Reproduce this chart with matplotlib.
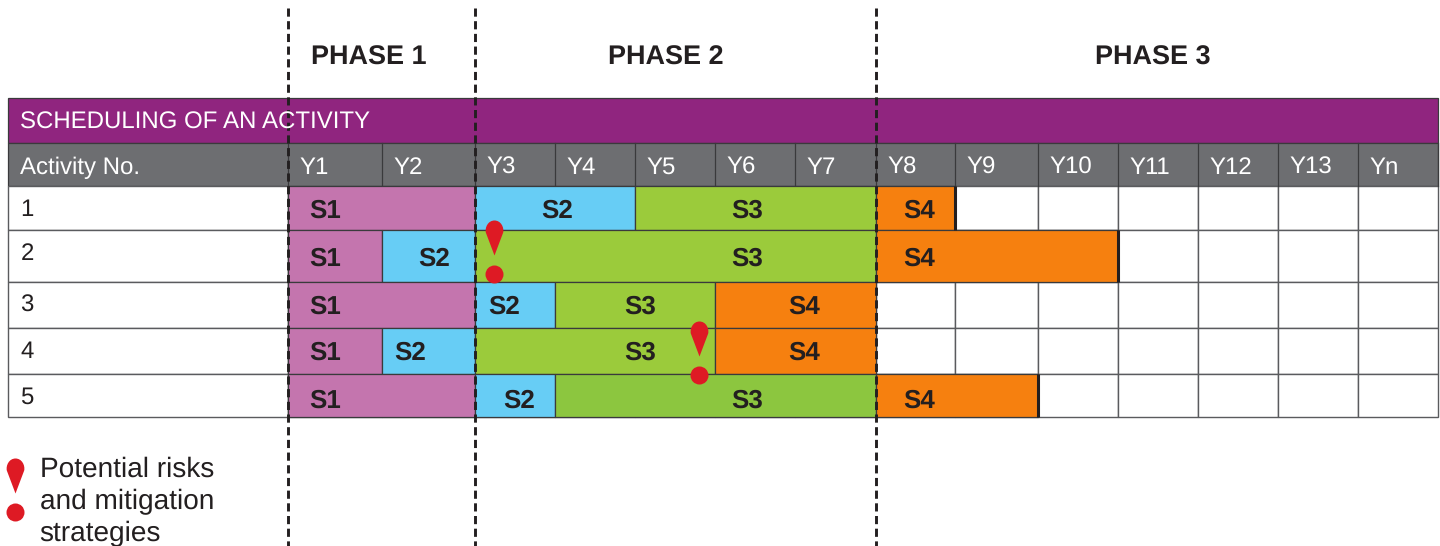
import matplotlib
matplotlib.use("Agg")
import matplotlib.pyplot as plt
from matplotlib.patches import Rectangle, PathPatch, Circle
from matplotlib.path import Path

plt.rcParams['font.family'] = ['Liberation Sans', 'DejaVu Sans']
plt.rcParams['text.hinting'] = 'no_hinting'
plt.rcParams['text.hinting_factor'] = 1

# ---- content ----
title = "SCHEDULING OF AN ACTIVITY"
first_col = "Activity No."
years = ["Y1", "Y2", "Y3", "Y4", "Y5", "Y6", "Y7", "Y8", "Y9", "Y10", "Y11", "Y12", "Y13", "Yn"]
activities = ["1", "2", "3", "4", "5"]
phases = ["PHASE 1", "PHASE 2", "PHASE 3"]
phase_bounds = [0, 2, 7, 14]          # in year columns
stages = ["S1", "S2", "S3", "S4"]
# end column of each stage per activity (stage k runs from previous end to this end)
stage_ends_a1 = [2, 4, 7, 8]
stage_ends_a2 = [1, 2, 7, 10]
stage_ends_a3 = [2, 3, 5, 7]
stage_ends_a4 = [1, 2, 5, 7]
stage_ends_a5 = [2, 3, 7, 9]
schedule = [stage_ends_a1, stage_ends_a2, stage_ends_a3, stage_ends_a4, stage_ends_a5]
legend_lines = ["Potential risks", "and mitigation", "strategies"]

# ---- layout (pixels) ----
col_x = [288, 382, 475, 555, 635, 715, 795, 876, 955, 1038, 1118, 1198, 1278, 1358, 1438]
row_y = [186, 230, 282, 328, 374, 417]
left = 8
stage_label_x = [[326, 558, 748, 920], [326, 435, 748, 920], [326, 505, 641, 805],
                 [326, 411, 641, 805], [326, 520, 748, 920]]
stage_label_y = [208.5, 256.5, 304.5, 350.5, 398.5]
activity_label_y = [208, 252, 304, 350, 396]
phase_label_x = [369, 666, 1153]
stage_colors = ["#c475ae", "#67cdf5", "#9bcb3b", "#f6800f"]
row5_s3 = "#8cc63f"
PURPLE, GREY, RED, INK, EDGE = "#90257f", "#6d6e71", "#de1a24", "#231f20", "#5a5b5e"
BORDER = "#3a3a3c"

fig = plt.figure(figsize=(14.4, 5.46), dpi=100)
ax = fig.add_axes([0, 0, 1, 1])
ax.set_xlim(0.5, 1440.5)
ax.set_ylim(546.5, 0.5)
ax.axis("off")


def risk(x, top):
    """Teardrop and dot warning marker."""
    r = 9
    cy = top + 9
    tip = top + 35
    verts = [(x, tip), (x - r + 0.3, cy + 3),
             (x - r - 0.7, cy - 2), (x - r + 2.5, top), (x, top),
             (x + r - 2.5, top), (x + r + 0.7, cy - 2), (x + r - 0.3, cy + 3),
             (x, tip), (x, tip)]
    codes = [Path.MOVETO, Path.LINETO,
             Path.CURVE4, Path.CURVE4, Path.CURVE4,
             Path.CURVE4, Path.CURVE4, Path.CURVE4,
             Path.LINETO, Path.CLOSEPOLY]
    ax.add_patch(PathPatch(Path(verts, codes), fc=RED, ec="none", zorder=6))
    ax.add_patch(Circle((x, top + 54), 9, fc=RED, ec="none", zorder=6))


# header bands
ax.add_patch(Rectangle((left, 98), 1430, 45, fc=PURPLE, ec=BORDER, lw=0.9, zorder=1))
ax.add_patch(Rectangle((left, 143), 1430, 43, fc=GREY, ec=BORDER, lw=0.9, zorder=1))
ax.text(21, 120.5, title, color="white", fontsize=17.2, va="center_baseline", ha="left", zorder=8)
ax.text(21, 165.5, first_col, color="white", fontsize=17.2, va="center_baseline", ha="left", zorder=8)
ax.plot([288, 288], [143, 186], color=BORDER, lw=0.9, zorder=2)
for i, lab in enumerate(years):
    ax.plot([col_x[i + 1]] * 2, [143, 186], color=BORDER, lw=0.9, zorder=2)
    ax.text(col_x[i] + 12, 165.5, lab, color="white", fontsize=17.2, va="center_baseline", ha="left", zorder=4)

# body rows
for r, ends in enumerate(schedule):
    y0, y1 = row_y[r], row_y[r + 1]
    ax.add_patch(Rectangle((left, y0), col_x[0] - left, y1 - y0, fc="white", ec=EDGE, lw=1.0, zorder=1))
    for c in range(len(years)):
        ax.add_patch(Rectangle((col_x[c], y0), col_x[c + 1] - col_x[c], y1 - y0,
                               fc="white", ec=EDGE, lw=1.0, zorder=1))
    ax.text(21, activity_label_y[r], activities[r], color=INK, fontsize=17, va="center_baseline", ha="left", zorder=4)
    start = 0
    for k, end in enumerate(ends):
        color = row5_s3 if (r == 4 and k == 2) else stage_colors[k]
        ax.add_patch(Rectangle((col_x[start], y0), col_x[end] - col_x[start], y1 - y0,
                               fc=color, ec=BORDER, lw=0.9, zorder=2))
        ax.text(stage_label_x[r][k], stage_label_y[r], stages[k], color=INK, fontsize=19,
                fontweight="bold", ha="center", va="center_baseline", zorder=4)
        start = end
    # thick closing edge of the last stage when it stops after the phase boundary
    if ends[-1] > 7:
        ax.plot([col_x[ends[-1]]] * 2, [y0, y1], color=INK, lw=2.2, zorder=3,
                solid_capstyle="butt")

# phase separators and titles
for b in phase_bounds[:-1]:
    ax.plot([col_x[b] + 0.5] * 2, [8, 560], color=INK, lw=2.1, zorder=5,
            linestyle=(0, (2.8, 1.55)))
for cx, lab in zip(phase_label_x, phases):
    ax.text(cx, 55, lab, color=INK, fontsize=19.3, fontweight="bold", ha="center",
            va="center_baseline", zorder=8)

# risk markers
risk(495, 221)
risk(700, 322)
risk(16, 459)

# legend text
for line, y in zip(legend_lines, [467.5, 499.5, 531.5]):
    ax.text(40, y, line, color=INK, fontsize=20, ha="left", va="center_baseline", zorder=8)

fig.savefig("out.png", dpi=100)
